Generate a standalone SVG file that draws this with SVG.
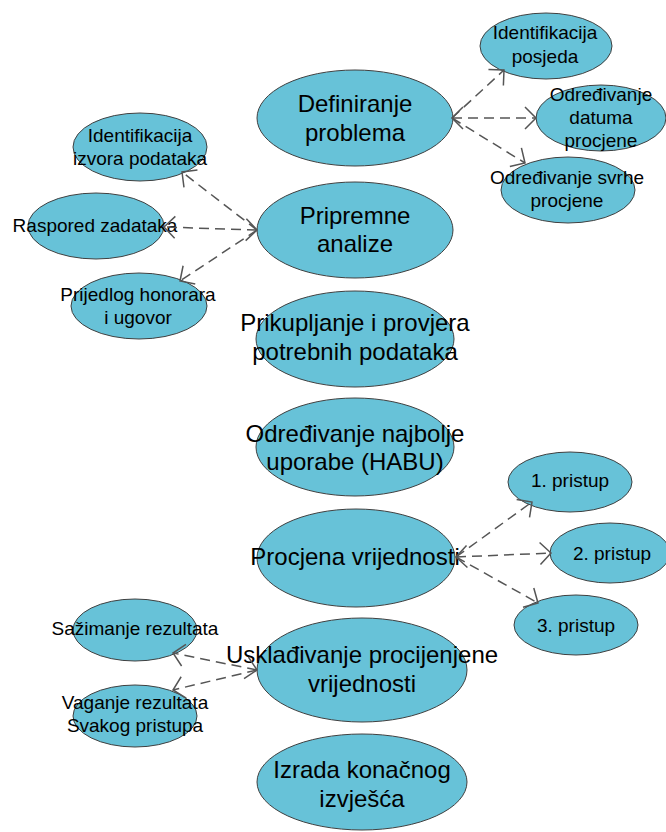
<svg xmlns="http://www.w3.org/2000/svg" width="666" height="832" viewBox="0 0 666 832">
<style>
  .n ellipse { fill: #67C2D8; stroke: #404040; stroke-width: 1; }
  .n text { font-family: "Liberation Sans", Arial, sans-serif; fill: #000; text-anchor: middle; }
  .big text { font-size: 24px; }
  .small text { font-size: 19px; }
  .c line { stroke: #555; stroke-width: 1.5; stroke-dasharray: 10 6; fill: none; }
</style>
<defs>
  <marker id="arr" viewBox="-13 -13 15 26" markerWidth="15" markerHeight="26" refX="0" refY="0" orient="auto-start-reverse" markerUnits="userSpaceOnUse">
    <path d="M-11,-11 L0,0 L-11,11" fill="none" stroke="#555" stroke-width="1.5"/>
  </marker>
</defs>
<rect width="666" height="832" fill="#fff"/>

<g id="definiranje" class="n big">
  <ellipse cx="355" cy="118" rx="98" ry="48"/>
  <text x="355" y="112">Definiranje</text>
  <text x="355" y="141">problema</text>
</g>
<g id="pripremne" class="n big">
  <ellipse cx="355" cy="230" rx="98" ry="48"/>
  <text x="355" y="224">Pripremne</text>
  <text x="355" y="252">analize</text>
</g>
<g id="prikupljanje" class="n big">
  <ellipse cx="355" cy="339" rx="99" ry="48"/>
  <text x="355" y="331">Prikupljanje i provjera</text>
  <text x="355" y="360">potrebnih podataka</text>
</g>
<g id="habu" class="n big">
  <ellipse cx="355" cy="447" rx="99" ry="49"/>
  <text x="355" y="442">Određivanje najbolje</text>
  <text x="355" y="470">uporabe (HABU)</text>
</g>
<g id="procjena" class="n big">
  <ellipse cx="356" cy="558" rx="99" ry="49"/>
  <text x="355" y="565">Procjena vrijednosti</text>
</g>
<g id="uskladivanje" class="n big">
  <ellipse cx="362" cy="670" rx="105" ry="52"/>
  <text x="362" y="663">Usklađivanje procijenjene</text>
  <text x="362" y="692">vrijednosti</text>
</g>
<g id="izrada" class="n big">
  <ellipse cx="362" cy="782" rx="105" ry="48"/>
  <text x="362" y="778">Izrada konačnog</text>
  <text x="362" y="807">izvješća</text>
</g>

<g id="ident-posjeda" class="n small">
  <ellipse cx="546" cy="46" rx="66" ry="33"/>
  <text x="545" y="39">Identifikacija</text>
  <text x="545" y="63">posjeda</text>
</g>
<g id="datum" class="n small">
  <ellipse cx="601" cy="118" rx="65" ry="33"/>
  <text x="601" y="101">Određivanje</text>
  <text x="601" y="124">datuma</text>
  <text x="601" y="147">procjene</text>
</g>
<g id="svrha" class="n small">
  <ellipse cx="568" cy="190" rx="67" ry="33"/>
  <text x="567" y="184">Određivanje svrhe</text>
  <text x="567" y="207">procjene</text>
</g>

<g id="ident-izvora" class="n small">
  <ellipse cx="140" cy="147" rx="67" ry="34"/>
  <text x="140" y="142">Identifikacija</text>
  <text x="140" y="165">izvora podataka</text>
</g>
<g id="raspored" class="n small">
  <ellipse cx="96" cy="226" rx="68" ry="33"/>
  <text x="95" y="232">Raspored zadataka</text>
</g>
<g id="prijedlog" class="n small">
  <ellipse cx="139" cy="306" rx="68" ry="33"/>
  <text x="138" y="301">Prijedlog honorara</text>
  <text x="138" y="324">i ugovor</text>
</g>

<g id="pristup1" class="n small">
  <ellipse cx="570" cy="482" rx="62" ry="30"/>
  <text x="570" y="487">1. pristup</text>
</g>
<g id="pristup2" class="n small">
  <ellipse cx="610" cy="553" rx="60" ry="30"/>
  <text x="612" y="560">2. pristup</text>
</g>
<g id="pristup3" class="n small">
  <ellipse cx="576" cy="625" rx="62" ry="30"/>
  <text x="576" y="632">3. pristup</text>
</g>

<g id="sazimanje" class="n small">
  <ellipse cx="135" cy="630" rx="62" ry="31"/>
  <text x="135" y="635">Sažimanje rezultata</text>
</g>
<g id="vaganje" class="n small">
  <ellipse cx="135" cy="716" rx="62" ry="31"/>
  <text x="135" y="709">Vaganje rezultata</text>
  <text x="135" y="732">Svakog pristupa</text>
</g>

<g id="connectors" class="c">
  <line x1="452" y1="118" x2="504" y2="70" marker-end="url(#arr)"/>
  <line x1="452" y1="118" x2="536" y2="118" marker-start="url(#arr)" marker-end="url(#arr)"/>
  <line x1="452" y1="118" x2="525" y2="163" marker-end="url(#arr)"/>

  <line x1="257" y1="230" x2="182" y2="172" marker-end="url(#arr)"/>
  <line x1="257" y1="230" x2="164" y2="227" marker-start="url(#arr)" marker-end="url(#arr)"/>
  <line x1="257" y1="230" x2="180" y2="281" marker-end="url(#arr)"/>

  <line x1="456" y1="557" x2="532" y2="502" marker-end="url(#arr)"/>
  <line x1="456" y1="557" x2="551" y2="553" marker-start="url(#arr)" marker-end="url(#arr)"/>
  <line x1="456" y1="557" x2="538" y2="603" marker-end="url(#arr)"/>

  <line x1="257" y1="670" x2="173" y2="653" marker-start="url(#arr)" marker-end="url(#arr)"/>
  <line x1="257" y1="670" x2="173" y2="690" marker-end="url(#arr)"/>
</g>
</svg>
